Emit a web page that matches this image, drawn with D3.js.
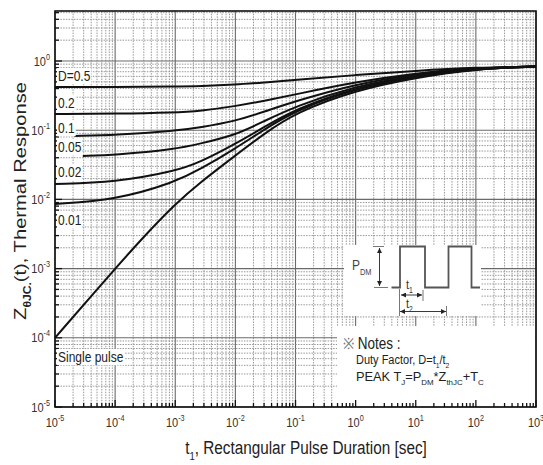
<!DOCTYPE html>
<html>
<head>
<meta charset="utf-8">
<script src="https://cdn.jsdelivr.net/npm/d3@7/dist/d3.min.js"></script>
<style>
body { margin: 0; background: #fff; }
svg { display: block; }
text { font-family: "Liberation Sans", Arial, Helvetica, sans-serif; }
</style>
</head>
<body>
<svg id="chart" width="543" height="465"></svg>
<script>
// pulse widths t1 (sec) where the curves were read
var tGrid = [1e-5, 1e-4, 1e-3, 2.6e-3, 1e-2, 3e-2, 1e-1, 1, 10, 100, 1000];
var tD01 = [2.1e-5, 1e-4, 1e-3, 2.6e-3, 1e-2, 3e-2, 1e-1, 1, 10, 100, 1000];
var tD005 = [2.9e-5, 1e-4, 1e-3, 2.6e-3, 1e-2, 3e-2, 1e-1, 1, 10, 100, 1000];
var tSingle = [1e-5, 1e-4, 3e-4, 1e-3, 2.6e-3, 1e-2, 3e-2, 1e-1, 1, 10, 100, 1000];

// Z thJC(t)
var zD05 = [0.421, 0.421, 0.427, 0.433, 0.455, 0.49, 0.531, 0.628, 0.724, 0.806, 0.833];
var zD02 = [0.1715, 0.173, 0.180, 0.190, 0.222, 0.265, 0.33, 0.497, 0.671, 0.792, 0.833];
var zD01 = [0.0824, 0.0852, 0.098, 0.110, 0.135, 0.185, 0.263, 0.465, 0.649, 0.787, 0.833];
var zD005 = [0.0424, 0.0438, 0.053, 0.064, 0.085, 0.135, 0.222, 0.435, 0.628, 0.782, 0.833];
var zD002 = [0.0167, 0.01767, 0.0255, 0.0345, 0.0635, 0.111, 0.202, 0.414, 0.607, 0.777, 0.833];
var zD001 = [0.00858, 0.0098, 0.0178, 0.0272, 0.0545, 0.102, 0.193, 0.4005, 0.597, 0.771, 0.833];
var zSingle = [1e-4, 1e-3, 0.0029, 0.0086, 0.0176, 0.043, 0.089, 0.18, 0.38, 0.578, 0.77, 0.833];

var curveNames = ['D=0.5', '0.2', '0.1', '0.05', '0.02', '0.01', 'Single pulse'];

var series = [
    [tGrid, zD05], [tGrid, zD02], [tD01, zD01], [tD005, zD005],
    [tGrid, zD002], [tGrid, zD001], [tSingle, zSingle]
];

var svg = d3.select('#chart');
var L = 55, R = 536, T = 11, B = 407;

var x = d3.scaleLog().domain([1e-5, 1e3]).range([L, R]);
var y = d3.scaleLog().domain([1e-5, 5.28]).range([B, T]);

function isDecade(v) {
    var l = Math.log10(v);
    return Math.abs(l - Math.round(l)) < 1e-6;
}

// text with sub/superscripts; the picture is stretched vertically so scale y
function label(parent, px, py, parts, o) {
    o = o || {};
    var fs = o.size || 12;
    var t = parent.append('text')
        .attr('font-size', fs)
        .attr('fill', o.fill || '#222')
        .attr('text-anchor', o.anchor || 'start');
    var shift = 0;
    parts.forEach(function(p) {
        var s = typeof p === 'string' ? [p, ''] : p;
        var ts = t.append('tspan').text(s[0]);
        var want = s[1] === 'sub' ? fs * 0.32 : s[1] === 'sup' ? -fs * 0.45 : 0;
        if (want !== shift) ts.attr('dy', want - shift);
        shift = want;
        if (s[1]) ts.attr('font-size', (o.small || 0.62) * fs);
        if (s[2]) ts.attr('font-weight', 'bold');
        if (s[3]) ts.attr('fill', s[3]);
    });
    var sx = 1, sy = o.sy || 1.2;
    if (o.w) sx = o.w / t.node().getBBox().width;
    t.attr('transform', 'translate(' + px + ',' + py + ')' +
        (o.rot ? ' rotate(' + o.rot + ')' : '') +
        ' scale(' + sx + ',' + sy + ')');
    if (o.bg) {
        var bb = t.node().getBBox();
        parent.insert('rect', function() { return t.node(); })
            .attr('x', px + bb.x * sx - 1)
            .attr('y', py + bb.y * sy)
            .attr('width', bb.width * sx + 2)
            .attr('height', bb.height * sy)
            .attr('fill', '#fff');
    }
    return t;
}

// grid
var grid = svg.append('g');
x.ticks().forEach(function(v) {
    var major = isDecade(v);
    grid.append('line')
        .attr('x1', x(v)).attr('x2', x(v)).attr('y1', T).attr('y2', B)
        .attr('stroke', major ? '#6a6a6a' : '#8c8c8c')
        .attr('stroke-width', major ? 1.1 : 0.9)
        .attr('stroke-dasharray', major ? null : '1.5,1.2');
});
y.ticks().forEach(function(v) {
    var major = isDecade(v);
    grid.append('line')
        .attr('x1', L).attr('x2', R).attr('y1', y(v)).attr('y2', y(v))
        .attr('stroke', major ? '#6a6a6a' : '#8c8c8c')
        .attr('stroke-width', major ? 1.1 : 0.9)
        .attr('stroke-dasharray', major ? null : '1.5,1.2');
});

// white areas behind the inset drawing and the notes
svg.append('rect').attr('x', 344).attr('y', 245).attr('width', 137).attr('height', 71).attr('fill', '#fff');
svg.append('rect').attr('x', 337).attr('y', 326).attr('width', 198).attr('height', 80).attr('fill', '#fff');

// curves
var line = d3.line()
    .x(function(d) { return x(d[0]); })
    .y(function(d) { return y(d[1]); })
    .curve(d3.curveBasis);

svg.append('g').selectAll('path')
    .data(series)
    .join('path')
    .attr('d', function(s) { return line(s[0].map(function(t, i) { return [t, s[1][i]]; })); })
    .attr('fill', 'none')
    .attr('stroke', '#111')
    .attr('stroke-width', 2);

// frame and inward ticks
svg.append('rect').attr('x', L).attr('y', T).attr('width', R - L).attr('height', B - T)
    .attr('fill', 'none').attr('stroke', '#111').attr('stroke-width', 1.6);

var ticks = svg.append('g').attr('stroke', '#111').attr('stroke-width', 1.3);
x.ticks().forEach(function(v) {
    var len = isDecade(v) ? 7 : 4;
    ticks.append('line').attr('x1', x(v)).attr('x2', x(v)).attr('y1', B).attr('y2', B - len);
});
y.ticks().forEach(function(v) {
    var len = isDecade(v) ? 7 : 4;
    ticks.append('line').attr('x1', L).attr('x2', L + len).attr('y1', y(v)).attr('y2', y(v));
});

// tick labels
var tl = svg.append('g');
x.ticks().filter(isDecade).forEach(function(v) {
    label(tl, x(v), 427, ['10', [String(Math.round(Math.log10(v))), 'sup']],
        { size: 11, anchor: 'middle', fill: '#333', small: 0.66 });
});
y.ticks().filter(isDecade).filter(function(v) { return v <= 1; }).forEach(function(v) {
    label(tl, 50, y(v) + 4.5, ['10', [String(Math.round(Math.log10(v))), 'sup']],
        { size: 11, anchor: 'end', fill: '#333', small: 0.66 });
});

// curve labels
var cl = svg.append('g');
var labelY = [81, 108, 133, 152, 177, 225, 362];
curveNames.forEach(function(n, i) {
    label(cl, 58, labelY[i], [n], { size: 12, bg: true });
});

// axis titles
label(svg, 306, 454, ['t', ['1', 'sub'], ', Rectangular Pulse Duration [sec]'],
    { size: 16, anchor: 'middle', w: 242, sy: 1.15 });
label(svg, 26, 201, ['Z', ['\u03B8JC.', 'sub', 1], '(t), Thermal Response'],
    { size: 17, anchor: 'middle', rot: -90, w: 238, sy: 1, small: 0.6 });

// inset: pulse train sketch
var defs = svg.append('defs');
defs.append('marker').attr('id', 'ah')
    .attr('viewBox', '0 0 6 6').attr('refX', 6).attr('refY', 3)
    .attr('markerWidth', 5).attr('markerHeight', 5)
    .attr('markerUnits', 'userSpaceOnUse')
    .attr('orient', 'auto-start-reverse')
    .append('path').attr('d', 'M0,0L6,3L0,6z').attr('fill', '#222');

var ins = svg.append('g').attr('fill', 'none').attr('stroke', '#555');
ins.append('path').attr('d', 'M391.5,287.5H400V246.5H425V287.5H448.5V246.5H471.5V287.5H480')
    .attr('stroke-width', 1.8);
ins.append('line').attr('x1', 373).attr('x2', 384).attr('y1', 246.5).attr('y2', 246.5).attr('stroke-width', 0.8);
ins.append('line').attr('x1', 374).attr('x2', 388).attr('y1', 287.5).attr('y2', 287.5).attr('stroke-width', 0.8);
ins.append('line').attr('x1', 379.5).attr('x2', 379.5).attr('y1', 248).attr('y2', 286)
    .attr('stroke', '#222').attr('stroke-width', 0.9)
    .attr('marker-start', 'url(#ah)').attr('marker-end', 'url(#ah)');
ins.append('line').attr('x1', 399.5).attr('x2', 399.5).attr('y1', 289).attr('y2', 316).attr('stroke-width', 0.8);
ins.append('line').attr('x1', 423).attr('x2', 423).attr('y1', 290).attr('y2', 301).attr('stroke-width', 0.8);
ins.append('line').attr('x1', 446.5).attr('x2', 446.5).attr('y1', 306).attr('y2', 316).attr('stroke-width', 0.8);
ins.append('line').attr('x1', 401).attr('x2', 422).attr('y1', 295).attr('y2', 295)
    .attr('stroke', '#222').attr('stroke-width', 0.9)
    .attr('marker-start', 'url(#ah)').attr('marker-end', 'url(#ah)');
ins.append('line').attr('x1', 400).attr('x2', 446).attr('y1', 311.5).attr('y2', 311.5)
    .attr('stroke', '#222').attr('stroke-width', 0.9)
    .attr('marker-start', 'url(#ah)').attr('marker-end', 'url(#ah)');

label(svg, 352, 270, ['P', ['DM', 'sub']], { size: 12, fill: '#444' });
label(svg, 406, 289, ['t', ['1', 'sub']], { size: 11, fill: '#333' });
label(svg, 406, 308, ['t', ['2', 'sub']], { size: 11, fill: '#333' });

// notes
label(svg, 343, 349, [['\u203B', '', 0, '#777'], ' Notes :'], { size: 13, fill: '#222', w: 58 });
label(svg, 356, 364, ['Duty Factor, D=t', ['1', 'sub'], '/t', ['2', 'sub']],
    { size: 11, fill: '#222', sy: 1.15 });
label(svg, 356, 381, ['PEAK T', ['J', 'sub'], '=P', ['DM', 'sub'], '*Z', ['thJC', 'sub'], '+T', ['C', 'sub']],
    { size: 11, fill: '#222', w: 128, sy: 1.15 });
</script>
</body>
</html>
